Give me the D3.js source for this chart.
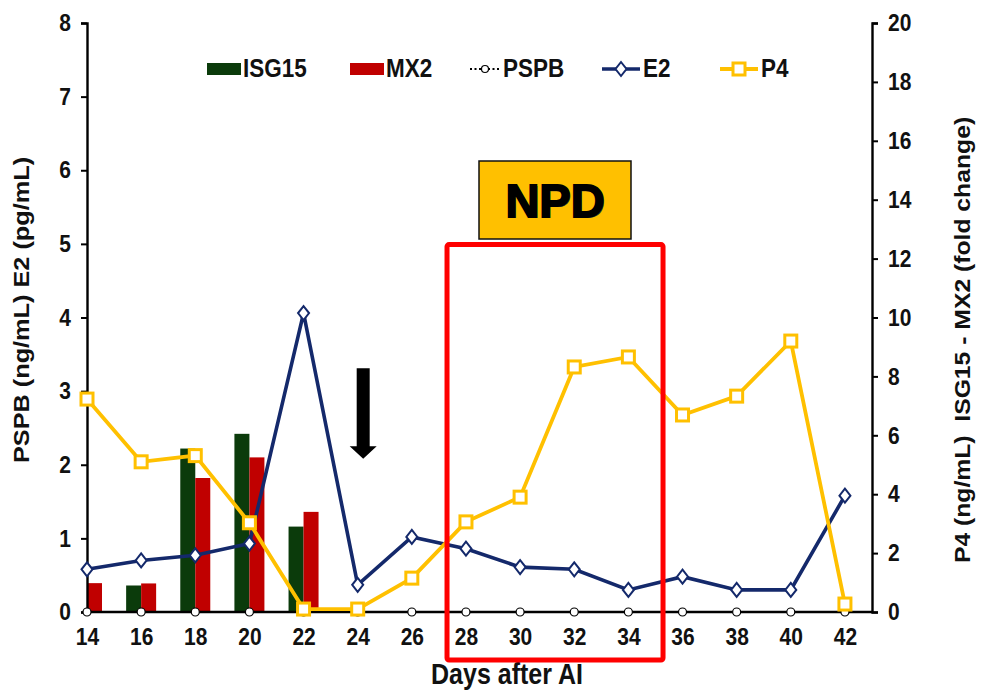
<!DOCTYPE html>
<html><head><meta charset="utf-8">
<script src="https://cdn.jsdelivr.net/npm/d3@7"></script>
<style>body{margin:0;background:#fff}svg{display:block}text{font-family:"Liberation Sans",Arial,sans-serif;font-weight:bold}</style>
</head><body>
<svg id="c" width="987" height="692"></svg>
<script>
const days = [14,16,18,20,22,24,26,28,30,32,34,36,38,40,42];
const isg15 = [null,0.9,5.55,6.05,2.9,null,null,null,null,null,null,null,null,null,null];
const mx2 = [0.98,0.97,4.55,5.25,3.4,null,null,null,null,null,null,null,null,null,null];
const pspb = [0,0,0,0,0,0,0,0,0,0,0,0,0,0,0];
const e2 = [0.58,0.7,0.77,0.93,4.06,0.37,1.02,0.86,0.61,0.58,0.3,0.48,0.3,0.3,1.58];
const p4 = [7.23,5.1,5.31,3.03,0.1,0.1,1.15,3.06,3.9,8.32,8.66,6.69,7.33,9.2,0.27];
const leftTicks = [0,1,2,3,4,5,6,7,8];
const rightTicks = [0,2,4,6,8,10,12,14,16,18,20];

const C = {isg:"#0b3b0b", mx:"#c00000", e2:"#14296b", p4:"#ffc000"};
const TXT = "#111";
const svg = d3.select("#c");
const L=87,R=872,T=23,B=612, SY=1.15;
const x = d3.scaleLinear().domain([14,43]).range([L,R]);
const yL = d3.scaleLinear().domain([0,8]).range([B,T]);
const yR = d3.scaleLinear().domain([0,20]).range([B,T]);
const bw = 15;

// bars
const g = svg.append("g");
days.forEach((d,i)=>{
  if(isg15[i]!=null) g.append("rect").attr("x",x(d)-bw).attr("y",yR(isg15[i])).attr("width",bw).attr("height",B-yR(isg15[i])).attr("fill",C.isg);
  if(mx2[i]!=null) g.append("rect").attr("x",x(d)).attr("y",yR(mx2[i])).attr("width",bw).attr("height",B-yR(mx2[i])).attr("fill",C.mx);
});

// axes
const axL = svg.append("g").attr("transform",`translate(${L},0)`).call(d3.axisLeft(yL).tickValues(leftTicks).tickSize(6).tickPadding(10));
const axR = svg.append("g").attr("transform",`translate(${R},0)`).call(d3.axisRight(yR).tickValues(rightTicks).tickSize(6).tickPadding(10));
const axB = svg.append("g").attr("transform",`translate(0,${B})`).call(d3.axisBottom(x).tickValues(days).tickSize(0).tickPadding(14));
[axL,axR,axB].forEach(a=>{
  a.select(".domain").attr("stroke","#000").attr("stroke-width",2.4);
  a.selectAll(".tick line").attr("stroke","#000").attr("stroke-width",2);
  a.selectAll(".tick text").attr("font-size",21).attr("fill",TXT).style("font-weight","bold");
});
axB.select(".domain").attr("d",`M${L},0H${R}`);
axL.selectAll(".tick text").attr("transform",`scale(1,${SY})`).attr("dy","0.32em");
axR.selectAll(".tick text").attr("transform",`scale(1,${SY})`).attr("dy","0.32em");
axB.selectAll(".tick text").attr("transform",`scale(1,${SY})`);

// PSPB dotted line
const lineP = d3.line().x((d,i)=>x(days[i])).y(d=>yL(d));
svg.append("path").datum(pspb).attr("d",lineP).attr("fill","none").attr("stroke","#000").attr("stroke-width",1.5).attr("stroke-dasharray","2,2");

// E2
svg.append("path").datum(e2).attr("d",lineP).attr("fill","none").attr("stroke",C.e2).attr("stroke-width",3.6);
const dia = "M0,-7L5.5,0L0,7L-5.5,0Z";
svg.selectAll(".e2m").data(e2).enter().append("path").attr("d",dia)
  .attr("transform",(d,i)=>`translate(${x(days[i])},${yL(d)})`).attr("fill","#fff").attr("stroke",C.e2).attr("stroke-width",2);

// PSPB markers
svg.selectAll(".pm").data(pspb).enter().append("circle").attr("cx",(d,i)=>x(days[i])).attr("cy",d=>yL(d)).attr("r",4)
  .attr("fill","#fff").attr("stroke","#000").attr("stroke-width",1.2);

// P4
const lineR = d3.line().x((d,i)=>x(days[i])).y(d=>yR(d));
svg.append("path").datum(p4).attr("d",lineR).attr("fill","none").attr("stroke",C.p4).attr("stroke-width",3.8);
svg.selectAll(".p4m").data(p4).enter().append("rect").attr("x",(d,i)=>x(days[i])-6).attr("y",d=>yR(d)-6).attr("width",12).attr("height",12)
  .attr("fill","#fff").attr("stroke",C.p4).attr("stroke-width",3);

// axis titles
svg.append("text").attr("transform",`translate(${29},${310}) scale(1,${SY}) rotate(-90)`).attr("text-anchor","middle").attr("font-size",22).attr("fill",TXT).text("PSPB (ng/mL) E2 (pg/mL)");
svg.append("text").attr("transform",`translate(${970},${340}) scale(1,${SY}) rotate(-90)`).attr("text-anchor","middle").attr("font-size",21.5).attr("fill",TXT).attr("xml:space","preserve").text("P4 (ng/mL)  ISG15 - MX2 (fold change)");
svg.append("text").attr("transform",`translate(${507},${684}) scale(1,${SY})`).attr("text-anchor","middle").attr("font-size",25).attr("fill",TXT).text("Days after AI");

// legend
const lg = svg.append("g");
const ly = 69;
lg.append("rect").attr("x",207).attr("y",ly-6).attr("width",34).attr("height",12).attr("fill",C.isg);
lg.append("rect").attr("x",350).attr("y",ly-6).attr("width",34).attr("height",12).attr("fill",C.mx);
lg.append("line").attr("x1",470).attr("x2",500).attr("y1",ly).attr("y2",ly).attr("stroke","#000").attr("stroke-width",1.8).attr("stroke-dasharray","2,2.5");
lg.append("circle").attr("cx",485).attr("cy",ly).attr("r",3.5).attr("fill","#fff").attr("stroke","#000").attr("stroke-width",1.2);
lg.append("line").attr("x1",602).attr("x2",640).attr("y1",ly).attr("y2",ly).attr("stroke",C.e2).attr("stroke-width",3.6);
lg.append("path").attr("d",dia).attr("transform",`translate(621,${ly})`).attr("fill","#fff").attr("stroke",C.e2).attr("stroke-width",2);
lg.append("line").attr("x1",720).attr("x2",758).attr("y1",ly).attr("y2",ly).attr("stroke",C.p4).attr("stroke-width",3.8);
lg.append("rect").attr("x",733).attr("y",ly-6).attr("width",12).attr("height",12).attr("fill","#fff").attr("stroke",C.p4).attr("stroke-width",3);
[["ISG15",243],["MX2",386],["PSPB",503],["E2",643],["P4",761]].forEach(([t,xx])=>{
  lg.append("text").attr("transform",`translate(${xx},${ly+8}) scale(1,${SY})`).attr("font-size",22.5).attr("fill",TXT).text(t);
});

// NPD box
svg.append("rect").attr("x",x(27.3)).attr("y",yL(4.99)).attr("width",x(35.28)-x(27.3)).attr("height",660-yL(4.99))
  .attr("fill","none").attr("stroke","#ff0000").attr("stroke-width",5).attr("rx",2);
svg.append("rect").attr("x",479).attr("y",161).attr("width",152).attr("height",78).attr("fill","#ffc000").attr("stroke","#111").attr("stroke-width",1.5);
svg.append("text").attr("x",556).attr("y",218).attr("text-anchor","middle").attr("font-size",47).attr("font-weight",900).attr("fill","#444").text("NPD");
svg.append("text").attr("x",555).attr("y",217).attr("text-anchor","middle").attr("font-size",47).attr("font-weight",900).attr("fill","#000")
  .attr("stroke","#000").attr("stroke-width",1.8).text("NPD");

// arrow
const ax = x(24)+5.5;
svg.append("path").attr("d",`M${ax-6.5},${yL(3.31)}H${ax+6.5}V${yL(2.25)}H${ax+13.5}L${ax},${yL(2.08)}L${ax-13.5},${yL(2.25)}H${ax-6.5}Z`).attr("fill","#000");
</script>
</body></html>
